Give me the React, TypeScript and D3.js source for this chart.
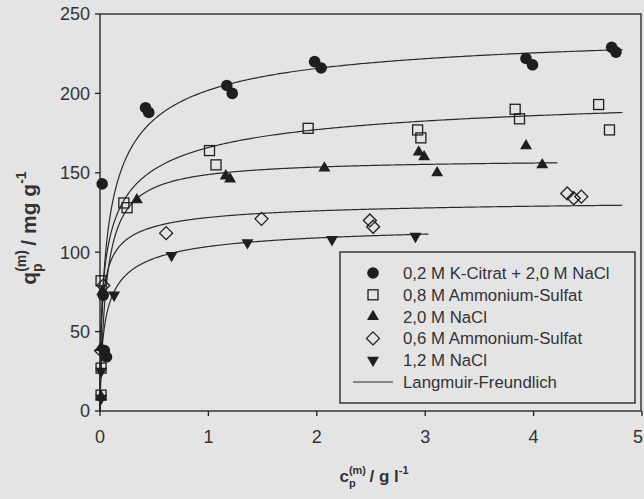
import React from "react";
import * as d3 from "d3";

const W = 644;
const H = 499;

// Plot frame in pixels
const plotLeft = 100;
const plotRight = 642;
const plotTop = 14;
const plotBottom = 411;

// Axis ticks
const xTicks = [0, 1, 2, 3, 4, 5];
const yTicks = [0, 50, 100, 150, 200, 250];

// Legend labels
const seriesNames = [
  "0,2 M K-Citrat + 2,0 M NaCl",
  "0,8 M Ammonium-Sulfat",
  "2,0 M NaCl",
  "0,6 M Ammonium-Sulfat",
  "1,2 M NaCl",
];
const fitLabel = "Langmuir-Freundlich";

// Measured isotherm points: c (g/l) and q (mg/g)
const citratC = [0.02, 0.03, 0.04, 0.06, 0.42, 0.45, 1.17, 1.22, 1.98, 2.04, 3.93, 3.99, 4.72, 4.76];
const citratQ = [143, 73, 38, 34, 191, 188, 205, 200, 220, 216, 222, 218, 229, 226];

const as08C = [0.01, 0.01, 0.01, 0.22, 0.25, 1.01, 1.07, 1.92, 2.93, 2.96, 3.83, 3.87, 4.6, 4.7];
const as08Q = [10, 27, 82, 131, 128, 164, 155, 178, 177, 172, 190, 184, 193, 177];

const nacl20C = [0.01, 0.01, 0.02, 0.34, 1.16, 1.2, 2.07, 2.94, 2.99, 3.11, 3.93, 4.08];
const nacl20Q = [9, 40, 75, 133, 148, 146, 153, 163, 160, 150, 167, 155];

const as06C = [0.01, 0.03, 0.61, 1.49, 2.49, 2.52, 4.31, 4.37, 4.44];
const as06Q = [38, 79, 112, 121, 120, 116, 137, 134, 135];

const nacl12C = [0.01, 0.01, 0.13, 0.66, 1.36, 2.14, 2.91];
const nacl12Q = [8, 25, 73, 98, 106, 108, 110];

// Langmuir-Freundlich fit parameters: q = qmax (K c)^n / (1 + (K c)^n)
const fitQmax = [245, 210, 159, 135, 120];
const fitK = [10.8, 12.8, 17, 41, 17];
const fitN = [0.65, 0.52, 0.95, 0.6, 0.65];
const fitEnd = [4.82, 4.82, 4.22, 4.82, 3.03];

const seriesC = [citratC, as08C, nacl20C, as06C, nacl12C];
const seriesQ = [citratQ, as08Q, nacl20Q, as06Q, nacl12Q];

type MarkerKind = "circle" | "square" | "triUp" | "diamond" | "triDown";
const markerKinds: MarkerKind[] = ["circle", "square", "triUp", "diamond", "triDown"];

const ink = "#1e1e1e";
const textInk = "#333";
const bg = "#e4e4e4";
const font = "'Liberation Sans', Arial, Helvetica, sans-serif";

function Marker({ kind, x, y }: { kind: MarkerKind; x: number; y: number }) {
  if (kind === "circle") {
    return <circle cx={x} cy={y} r={5.8} fill={ink} />;
  }
  if (kind === "square") {
    return (
      <rect x={x - 5} y={y - 5} width={10} height={10} fill="none" stroke={ink} strokeWidth={1.3} />
    );
  }
  if (kind === "diamond") {
    const d = 6.5;
    return (
      <path
        d={`M${x},${y - d}L${x + d},${y}L${x},${y + d}L${x - d},${y}Z`}
        fill="none"
        stroke={ink}
        strokeWidth={1.3}
      />
    );
  }
  const s = d3.symbol().type(d3.symbolTriangle).size(62)() as string;
  const rot = kind === "triDown" ? 180 : 0;
  return <path d={s} transform={`translate(${x},${y}) rotate(${rot})`} fill={ink} />;
}

export default function App() {
  const x = d3.scaleLinear().domain([0, 5]).range([plotLeft, plotRight]);
  const y = d3.scaleLinear().domain([0, 250]).range([plotBottom, plotTop]);

  const line = d3
    .line<[number, number]>()
    .x((d) => x(d[0]))
    .y((d) => y(d[1]))
    .curve(d3.curveLinear);

  const fitPaths = fitQmax.map((qmax, i) => {
    const k = fitK[i];
    const n = fitN[i];
    const end = fitEnd[i];
    const pts: [number, number][] = [[0, 0]];
    const steps = 400;
    for (let s = 1; s <= steps; s++) {
      const c = end * Math.pow(s / steps, 2.5);
      const u = Math.pow(k * c, n);
      pts.push([c, (qmax * u) / (1 + u)]);
    }
    return line(pts) as string;
  });

  const legendX = 340;
  const legendY = 252;
  const legendW = 295;
  const legendH = 151;
  const rowY0 = 273;
  const rowGap = 21.8;
  const markerX = 373;
  const labelX = 403;

  return (
    <svg
      width={W}
      height={H}
      viewBox={`0 0 ${W} ${H}`}
      style={{ position: "absolute", left: 0, top: 0, display: "block" }}
      fontFamily={font}
    >
      <rect x={0} y={0} width={W} height={H} fill={bg} />

      {/* frame */}
      <rect
        x={plotLeft}
        y={plotTop}
        width={plotRight - plotLeft - 1}
        height={plotBottom - plotTop}
        fill="none"
        stroke={ink}
        strokeWidth={1.3}
      />

      {/* y ticks */}
      {yTicks.map((t) => (
        <g key={`yt${t}`}>
          <line x1={plotLeft - 5} x2={plotLeft} y1={y(t)} y2={y(t)} stroke={ink} strokeWidth={1.3} />
          <text x={plotLeft - 10} y={y(t)} dy="0.36em" textAnchor="end" fontSize={18} fill={textInk}>
            {t}
          </text>
        </g>
      ))}

      {/* x ticks */}
      {xTicks.map((t) => {
        const last = t === xTicks[xTicks.length - 1];
        return (
          <g key={`xt${t}`}>
            <line x1={x(t)} x2={x(t)} y1={plotBottom} y2={plotBottom + 5} stroke={ink} strokeWidth={1.3} />
            <text
              x={last ? W - 1 : x(t)}
              y={443}
              textAnchor={last ? "end" : "middle"}
              fontSize={18}
              fill={textInk}
            >
              {t}
            </text>
          </g>
        );
      })}

      {/* fitted curves */}
      {fitPaths.map((d, i) => (
        <path key={`fit${i}`} d={d} fill="none" stroke="#2a2a2a" strokeWidth={1.2} />
      ))}

      {/* measured points */}
      {seriesC.map((cs, i) =>
        cs.map((c, j) => (
          <Marker key={`m${i}-${j}`} kind={markerKinds[i]} x={x(c)} y={y(seriesQ[i][j])} />
        ))
      )}

      {/* legend */}
      <rect x={legendX} y={legendY} width={legendW} height={legendH} fill={bg} stroke={ink} strokeWidth={1.3} />
      {seriesNames.map((name, i) => (
        <g key={`lg${i}`}>
          <Marker kind={markerKinds[i]} x={markerX} y={rowY0 + i * rowGap} />
          <text x={labelX} y={rowY0 + i * rowGap} dy="0.36em" fontSize={16.8} fill={textInk}>
            {name}
          </text>
        </g>
      ))}
      <line
        x1={353}
        x2={393}
        y1={rowY0 + 5 * rowGap}
        y2={rowY0 + 5 * rowGap}
        stroke="#2a2a2a"
        strokeWidth={1.2}
      />
      <text x={labelX} y={rowY0 + 5 * rowGap} dy="0.36em" fontSize={16.8} fill={textInk}>
        {fitLabel}
      </text>

      {/* x axis title */}
      <text x={374} y={482} textAnchor="middle" fontWeight="bold" fontSize={17} fill={textInk}>
        c
        <tspan fontSize={11} dy={-8}>(m)</tspan>
        <tspan fontSize={11} dx={-17} dy={13}>p</tspan>
        <tspan dx={9} dy={-5}>{" / g l"}</tspan>
        <tspan fontSize={11} dy={-8}>-1</tspan>
      </text>

      {/* y axis title */}
      <text
        transform="translate(36,228) rotate(-90)"
        textAnchor="middle"
        fontWeight="bold"
        fontSize={21}
        fill={textInk}
      >
        q
        <tspan fontSize={14} dy={-10}>(m)</tspan>
        <tspan fontSize={14} dx={-22} dy={16}>p</tspan>
        <tspan dx={12} dy={-6}>{" / mg g"}</tspan>
        <tspan fontSize={14} dy={-10}>-1</tspan>
      </text>
    </svg>
  );
}
